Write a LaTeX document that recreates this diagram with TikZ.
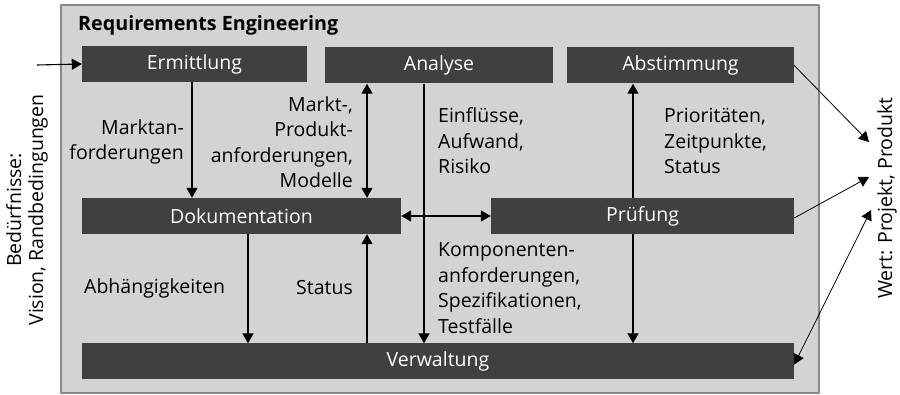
\documentclass[tikz,border=0pt]{standalone}
\usepackage{fontspec}
\setmainfont{Open Sans}
\usetikzlibrary{arrows.meta}
\definecolor{boxgray}{RGB}{64,64,64}
\definecolor{framegray}{RGB}{211,211,211}
\definecolor{edgegray}{RGB}{135,135,135}
\begin{document}
\begin{tikzpicture}[x=1pt, y=-1pt, font=\fontsize{19.5}{25.5}\selectfont, line join=round,
		box/.style={fill=boxgray, text=white, minimum height=36pt, inner sep=0pt},
		arr/.style={-{Triangle[length=10pt, width=11pt]}, line width=1.1pt},
		darr/.style={{Triangle[length=10pt, width=11pt]}-{Triangle[length=10pt, width=11pt]}, line width=1.1pt},
		lbl/.style={inner sep=0pt}]
				\useasboundingbox (0,0) rectangle (900,395);
				\draw[edgegray, line width=1.2pt, fill=framegray] (61,5) rectangle (819,393);
				\node[lbl, anchor=west, font=\fontsize{19.7}{25}\selectfont\bfseries] (title) at (78,25) {Requirements Engineering};
				\node[box, minimum width=225pt] (erm) at (194.5,64) {Ermittlung};
				\node[box, minimum width=228pt] (ana) at (439,65.5) {Analyse};
				\node[box, minimum width=227pt] (abs) at (680.5,65.5) {Abstimmung};
				\node[box, minimum width=319pt] (doc) at (241.5,216) {Dokumentation};
				\node[box, minimum width=303pt] (pru) at (642.5,216) {Prüfung};
				\node[box, minimum width=712pt] (ver) at (438,361.5) {Verwaltung};
				\coordinate (in) at (37,65);
				\coordinate (c1) at (192,0);
				\coordinate (c2) at (367,0);
				\coordinate (c3) at (424,0);
				\coordinate (c4) at (633,0);
				\coordinate (c5) at (248,0);
				\coordinate (w1) at (869,142);
				\coordinate (w2) at (869,177);
				\coordinate (w3) at (871,210);
				\draw[arr] (in) -- (erm.west);
				\draw[arr] (erm.south -| c1) -- (doc.north -| c1);
				\draw[darr] (ana.south -| c2) -- (doc.north -| c2);
				\draw[arr] (ana.south -| c3) -- (ver.north -| c3);
				\draw[darr] (doc.east) -- (pru.west);
				\draw[arr] (pru.north -| c4) -- (abs.south -| c4);
				\draw[arr] (pru.south -| c4) -- (ver.north -| c4);
				\draw[arr] (doc.south -| c5) -- (ver.north -| c5);
				\draw[arr] (ver.north -| c2) -- (doc.south -| c2);
				\draw[arr, line width=0.8pt] (abs.east) -- (w1);
				\draw[arr, line width=0.8pt] ([yshift=-2pt]pru.east) -- (w2);
				\draw[darr, line width=0.8pt] ([yshift=-3pt]ver.east) -- (w3);
				\node[lbl, anchor=east, align=right] (l1) at (184,142) {Marktan-\\forderungen};
				\node[lbl, anchor=east, align=right] (l2) at (353,142) {Markt-,\\Produkt-\\anforderungen,\\Modelle};
				\node[lbl, anchor=west, align=left] (l3) at (438,141) {Einflüsse,\\Aufwand,\\Risiko};
				\node[lbl, anchor=west, align=left] (l4) at (664,141) {Prioritäten,\\Zeitpunkte,\\Status};
				\node[lbl, anchor=west] (l5) at (84,288) {Abhängigkeiten};
				\node[lbl, anchor=east] (l6) at (353,288) {Status};
				\node[lbl, anchor=west, align=left] (l7) at (438,288) {Komponenten-\\anforderungen,\\Spezifikationen,\\Testfälle};
				\node[lbl, rotate=90, align=center, font=\fontsize{19.5}{22}\selectfont] (need) at (27,210) {Bedürfnisse:\\Vision, Randbedingungen};
				\node[lbl, rotate=90] (value) at (887,198) {Wert: Projekt, Produkt};
			\end{tikzpicture}
\end{document}
